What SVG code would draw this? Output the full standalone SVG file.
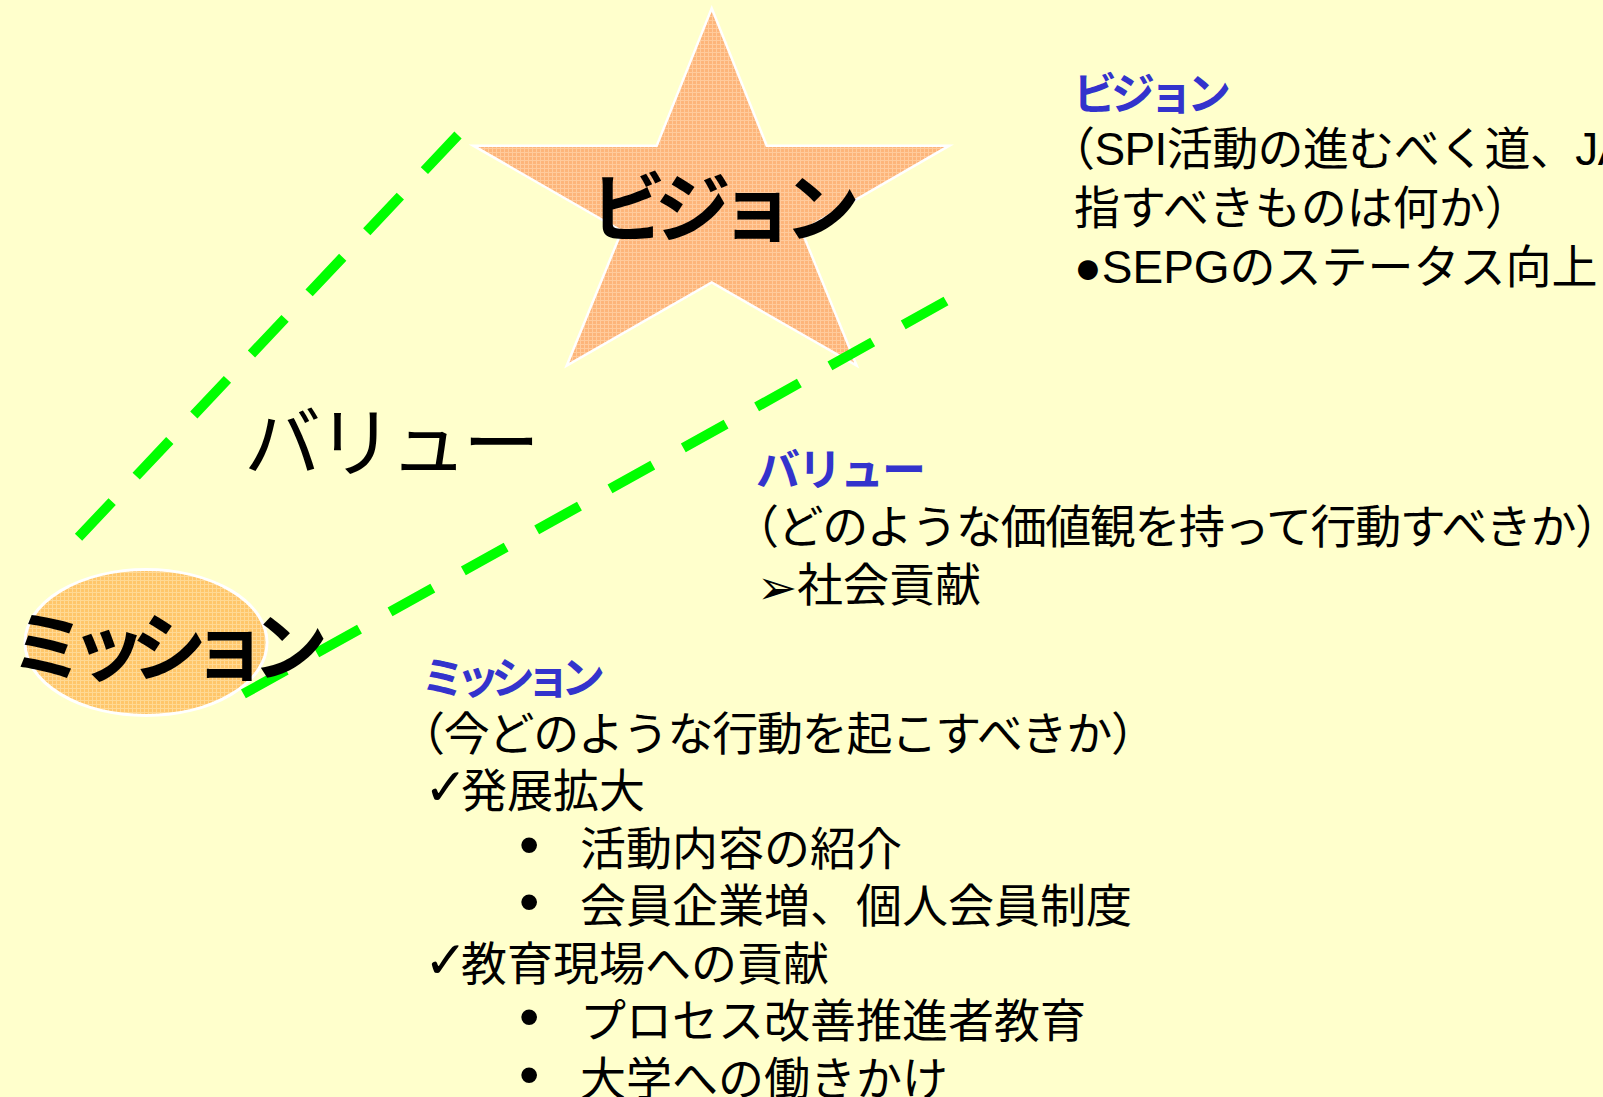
<svg xmlns="http://www.w3.org/2000/svg" width="1603" height="1097" viewBox="0 0 1603 1097">
<defs>
<pattern id="gridStar" width="8" height="8" patternUnits="userSpaceOnUse">
<rect width="8" height="8" fill="#FDB57A"/>
<path d="M0.5 0V8M4.5 0V8M0 0.5H8M0 4.5H8" stroke="#FFCB9C" stroke-width="1"/>
</pattern>
<pattern id="gridEll" width="8" height="8" patternUnits="userSpaceOnUse">
<rect width="8" height="8" fill="#FFC66A"/>
<path d="M0.5 0V8M4.5 0V8M0 0.5H8M0 4.5H8" stroke="#FFD994" stroke-width="1"/>
</pattern>
</defs>
<style>
.jp{font-family:"Liberation Sans","Noto Sans CJK JP",sans-serif;}
.body{font-size:46px;fill:#000;}
.head{font-size:44px;font-weight:bold;fill:#3333CC;}
.big{font-weight:bold;fill:#000;}
.bul{font-family:"Liberation Sans",sans-serif;font-size:58px;fill:#000;}
.sym{font-family:"DejaVu Sans",sans-serif;fill:#000;}
.dash{stroke:#00FF00;stroke-width:10;stroke-dasharray:49 35;fill:none;}
</style>
<rect width="1603" height="1097" fill="#FFFFCC"/>

<g id="mission-node">
<ellipse cx="146" cy="642.5" rx="121" ry="73" fill="url(#gridEll)" stroke="#FFFFFF" stroke-width="3"/>
</g>
<g id="vision-node">
<polygon points="711.7,8.3 766.7,145.7 949.3,145.7 801.7,231 856.7,365.7 711.7,282.5 566.7,365.7 621.7,231 473.3,145.7 656.7,145.7" fill="url(#gridStar)" stroke="#FFFFFF" stroke-width="2.5"/>
</g>

<g id="connectors">
<line class="dash" x1="458" y1="135" x2="75" y2="541"/>
<line class="dash" x1="946" y1="301" x2="238" y2="697"/>
</g>

<g id="mission-label">
<text class="jp big" x="10" y="675" font-size="76" textLength="318" lengthAdjust="spacing">ミッション</text>
</g>
<g id="vision-label">
<text class="jp big" x="590" y="236" font-size="76" textLength="270" lengthAdjust="spacing">ビジョン</text>
</g>
<g id="value-label">
<text class="jp" x="244" y="471" font-size="77" fill="#000" textLength="296" lengthAdjust="spacing">バリュー</text>
</g>

<g id="vision-text">
<text class="jp head" x="1073" y="110" textLength="158" lengthAdjust="spacing">ビジョン</text>
<text class="jp body" x="1049" y="165" style="letter-spacing:-0.6px">（SPI活動の進むべく道、JA</text>
<text class="jp body" x="1074" y="224">指すべきものは何か）</text>
<text class="jp body" x="1074" y="283">●SEPGのステータス向上</text>
</g>

<g id="value-text">
<text class="jp head" x="756" y="486" textLength="170" lengthAdjust="spacing">バリュー</text>
<text class="jp body" x="733" y="543" textLength="888" lengthAdjust="spacing">（どのような価値観を持って行動すべきか）</text>
<text class="sym" x="757" y="604" font-size="48">➢</text>
<text class="jp body" x="797" y="601">社会貢献</text>
</g>

<g id="mission-text">
<text class="jp head" x="421" y="694" textLength="184" lengthAdjust="spacing">ミッション</text>
<text class="jp body" x="399" y="750" textLength="758" lengthAdjust="spacing">（今どのような行動を起こすべきか）</text>
<text class="sym" x="424" y="805" font-size="52">✓</text>
<text class="jp body" x="461" y="807">発展拡大</text>
<text class="bul" x="519" y="864">•</text>
<text class="jp body" x="580" y="865">活動内容の紹介</text>
<text class="bul" x="519" y="921">•</text>
<text class="jp body" x="580" y="922">会員企業増、個人会員制度</text>
<text class="sym" x="424" y="978" font-size="52">✓</text>
<text class="jp body" x="461" y="980">教育現場への貢献</text>
<text class="bul" x="519" y="1036">•</text>
<text class="jp body" x="580" y="1037">プロセス改善推進者教育</text>
<text class="bul" x="519" y="1094">•</text>
<text class="jp body" x="580" y="1095">大学への働きかけ</text>
</g>
</svg>
